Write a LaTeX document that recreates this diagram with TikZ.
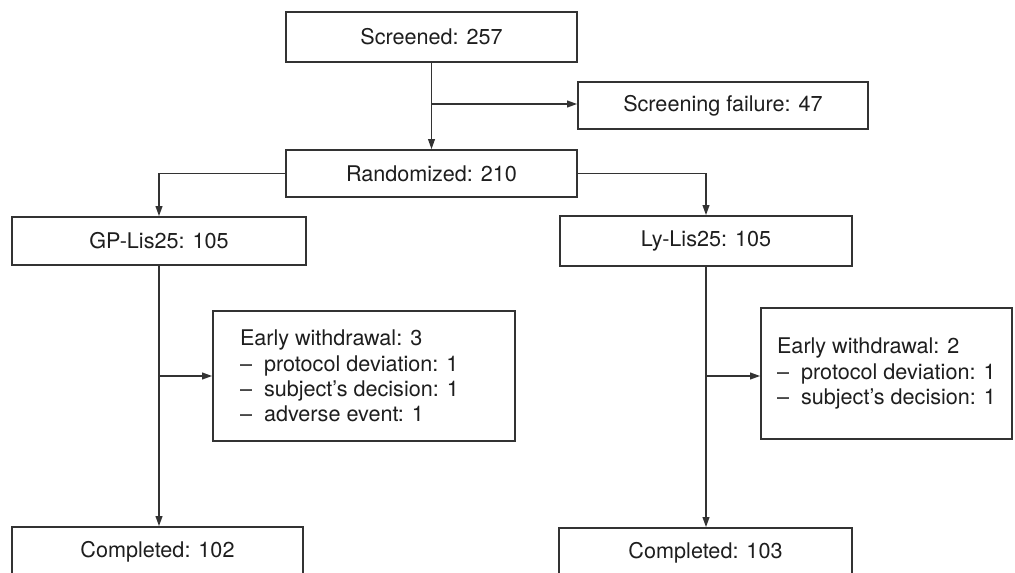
\documentclass[tikz,border=0pt]{standalone}
\usepackage{fontspec}
\setmainfont{TeX Gyre Heros}
\usepackage{xcolor}
\usetikzlibrary{arrows.meta,positioning,calc}
\definecolor{linegray}{HTML}{333333}
\definecolor{textgray}{HTML}{1E1E1E}

\begin{document}
\begin{tikzpicture}[x=0.5pt, y=-0.5pt,
    box/.style={rectangle, draw=linegray, line width=0.9pt, fill=white, inner sep=0pt, text=textgray, font=\fontsize{10.8}{12.6}\selectfont, text centered},
    flow/.style={draw=linegray, line width=0.7pt, -{Triangle[length=5pt, width=3.4pt]}}
]
    \useasboundingbox (0,0) rectangle (1015,572);
    \clip (0,0) rectangle (1015,572);

    % Screening
    \node[box, minimum width=145.5pt, minimum height=25pt] (scr) at (431.5,37) {Screened: 257};
    \node[box, minimum width=145pt, minimum height=23.5pt] (fail) at (723,105.5) {Screening failure: 47};
    \node[box, minimum width=145.5pt, minimum height=23.5pt] (rand) at (431.5,173.5) {Randomized: 210};

    % Treatment arms
    \node[box, minimum width=147pt, minimum height=24pt] (gp) at (159,241) {GP-Lis25: 105};
    \node[box, minimum width=146pt, minimum height=25pt] (ly) at (706,241) {Ly-Lis25: 105};

    % Withdrawals
    \node[box, minimum width=151pt, minimum height=65pt, align=left] (gpw) at (364,376) {
        \makebox[124pt][l]{Early withdrawal: 3} \\
        --\ \ protocol deviation: 1 \\
        --\ \ subject's decision: 1 \\
        --\ \ adverse event: 1
    };
    \node[box, minimum width=125.5pt, minimum height=65.5pt, align=left] (lyw) at (886.5,373.5) {
        \makebox[99pt][l]{Early withdrawal: 2} \\
        --\ \ protocol deviation: 1 \\
        --\ \ subject's decision: 1
    };

    % Completed (cut off at the bottom)
    \node[box, minimum width=145.5pt, minimum height=25pt] (gpc) at (157.5,552) {Completed: 102};
    \node[box, minimum width=146.5pt, minimum height=25pt] (lyc) at (705.5,553) {Completed: 103};

    % Connectors
    \draw[flow] (scr.south) -- (rand.north);
    \coordinate (sb) at (scr.south |- 0,104);
    \draw[flow] (sb) -- (sb -| fail.west);
    \draw[flow] (rand.west) -| (gp.north);
    \draw[flow] (rand.east) -| (ly.north);
    \draw[flow] (gp.south) -- (gp.south |- gpc.north);
    \draw[flow] (ly.south) -- (ly.south |- lyc.north);
    \coordinate (gb) at (gp.south |- 0,376);
    \draw[flow] (gb) -- (gb -| gpw.west);
    \coordinate (lb) at (ly.south |- 0,376);
    \draw[flow] (lb) -- (lb -| lyw.west);
\end{tikzpicture}
\end{document}
